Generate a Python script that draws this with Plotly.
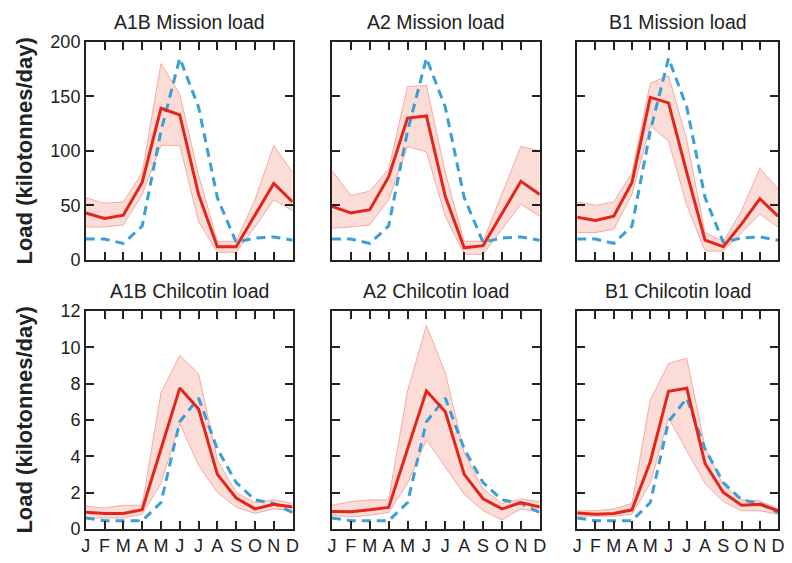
import plotly.graph_objects as go

months = ["J", "F", "M", "A", "M", "J", "J", "A", "S", "O", "N", "D"]
x_idx = list(range(12))

titles = ["A1B Mission load", "A2 Mission load", "B1 Mission load",
          "A1B Chilcotin load", "A2 Chilcotin load", "B1 Chilcotin load"]

# Mission (top row)
obs_mission = [19, 19, 15, 31, 118, 185, 140, 57, 16, 20, 21, 18]
a1b_m_mean = [43, 38, 41, 71, 139, 133, 60, 12, 12, 41, 70, 53]
a1b_m_up = [57, 52, 53, 80, 180, 152, 78, 17, 17, 55, 105, 80]
a1b_m_lo = [30, 30, 32, 60, 105, 105, 35, 7, 7, 30, 55, 45]
a2_m_mean = [49, 43, 46, 76, 130, 132, 58, 11, 13, 42, 72, 60]
a2_m_up = [82, 59, 63, 83, 159, 160, 80, 17, 17, 60, 104, 100]
a2_m_lo = [29, 30, 32, 55, 104, 99, 40, 5, 5, 28, 51, 40]
b1_m_mean = [39, 36, 40, 71, 149, 144, 80, 18, 12, 33, 56, 40]
b1_m_up = [53, 50, 53, 80, 162, 169, 110, 25, 17, 45, 84, 65]
b1_m_lo = [25, 25, 28, 60, 123, 109, 50, 8, 8, 25, 42, 30]

# Chilcotin (bottom row)
obs_chil = [0.6, 0.45, 0.45, 0.45, 1.45, 5.9, 7.2, 4.4, 2.55, 1.6, 1.4, 0.9]
a1b_c_mean = [0.92, 0.85, 0.85, 1.05, 4.4, 7.75, 6.6, 3.0, 1.7, 1.1, 1.35, 1.2]
a1b_c_up = [1.25, 1.15, 1.3, 1.3, 7.5, 9.55, 8.55, 3.8, 2.0, 1.45, 1.6, 1.4]
a1b_c_lo = [0.6, 0.6, 0.6, 0.8, 2.5, 5.8, 3.5, 2.0, 1.2, 0.85, 1.1, 1.0]
a2_c_mean = [0.96, 0.95, 1.05, 1.18, 4.4, 7.6, 6.45, 3.0, 1.66, 1.1, 1.45, 1.2]
a2_c_up = [1.3, 1.5, 1.6, 1.6, 7.6, 11.2, 8.6, 4.2, 2.2, 1.4, 1.65, 1.5]
a2_c_lo = [0.75, 0.65, 0.75, 0.9, 2.5, 4.9, 3.4, 1.9, 1.0, 0.5, 1.1, 0.9]
b1_c_mean = [0.87, 0.8, 0.85, 1.05, 3.7, 7.58, 7.74, 3.6, 2.0, 1.3, 1.35, 1.0]
b1_c_up = [1.0, 1.0, 1.1, 1.4, 7.1, 9.1, 9.4, 4.5, 2.4, 1.6, 1.55, 1.1]
b1_c_lo = [0.7, 0.7, 0.7, 0.8, 2.5, 6.1, 4.3, 2.5, 1.5, 1.0, 1.0, 0.8]

panels = [
    (obs_mission, a1b_m_mean, a1b_m_up, a1b_m_lo),
    (obs_mission, a2_m_mean, a2_m_up, a2_m_lo),
    (obs_mission, b1_m_mean, b1_m_up, b1_m_lo),
    (obs_chil, a1b_c_mean, a1b_c_up, a1b_c_lo),
    (obs_chil, a2_c_mean, a2_c_up, a2_c_lo),
    (obs_chil, b1_c_mean, b1_c_up, b1_c_lo),
]

W, H = 792, 563
# target pixel positions of the panels
col_px = [(82, 292), (332, 543), (581, 785)]
row_px = [(33, 259), (312, 538)]

FONT = "Liberation Sans, Arial, Helvetica, sans-serif"
RED = "#e3261c"
BLUE = "#3a9fd6"
BAND = "rgba(244,150,130,0.33)"
BAND_EDGE = "rgba(240,150,140,0.75)"


def fx(p):
    return p / W


def fy(p):
    return 1 - p / H


fig = go.Figure()
layout = {}
annotations = []

for i, (obs, mean, up, lo) in enumerate(panels):
    r, c = divmod(i, 3)
    n = i + 1
    xa = "x" if n == 1 else f"x{n}"
    ya = "y" if n == 1 else f"y{n}"
    fig.add_trace(go.Scatter(x=x_idx, y=lo, mode="lines", line=dict(color=BAND_EDGE, width=1),
                             xaxis=xa, yaxis=ya, showlegend=False, hoverinfo="skip"))
    fig.add_trace(go.Scatter(x=x_idx, y=up, mode="lines", line=dict(color=BAND_EDGE, width=1),
                             fill="tonexty", fillcolor=BAND,
                             xaxis=xa, yaxis=ya, showlegend=False, hoverinfo="skip"))
    fig.add_trace(go.Scatter(x=x_idx, y=obs, mode="lines", line=dict(color=BLUE, width=3, dash="9px,6px"),
                             xaxis=xa, yaxis=ya, showlegend=False))
    fig.add_trace(go.Scatter(x=x_idx, y=mean, mode="lines", line=dict(color=RED, width=3),
                             xaxis=xa, yaxis=ya, showlegend=False))

    x0, x1 = col_px[c]
    y0, y1 = row_px[r]
    axkey_x = "xaxis" if n == 1 else f"xaxis{n}"
    axkey_y = "yaxis" if n == 1 else f"yaxis{n}"
    layout[axkey_x] = dict(
        domain=[fx(x0), fx(x1)], anchor=ya, range=[0, 11],
        tickmode="array", tickvals=x_idx, ticktext=months,
        showticklabels=(r == 1), ticks="inside", ticklen=8, tickwidth=1.5,
        tickcolor="#222", showline=True, linecolor="#222", linewidth=1.5,
        mirror="ticks", showgrid=False, zeroline=False,
        tickfont=dict(family=FONT, size=18, color="#222"),
    )
    if r == 0:
        yr, ytv = [0, 200], [0, 50, 100, 150, 200]
    else:
        yr, ytv = [0, 12], [0, 2, 4, 6, 8, 10, 12]
    layout[axkey_y] = dict(
        domain=[fy(y1), fy(y0)], anchor=xa, range=yr,
        tickmode="array", tickvals=ytv,
        showticklabels=(c == 0), ticks="inside", ticklen=8, tickwidth=1.5,
        tickcolor="#222", showline=True, linecolor="#222", linewidth=1.5,
        mirror="ticks", showgrid=False, zeroline=False,
        tickfont=dict(family=FONT, size=18, color="#222"),
    )
    annotations.append(dict(
        text=titles[i], x=fx((x0 + x1) / 2), y=fy(y0 - 7),
        xref="paper", yref="paper", xanchor="center", yanchor="bottom",
        showarrow=False, font=dict(family=FONT, size=19.5, color="#222"),
    ))

for (y0, y1) in row_px:
    annotations.append(dict(
        text="<b>Load (kilotonnes/day)</b>", x=fx(20), y=fy((y0 + y1) / 2),
        xref="paper", yref="paper", xanchor="center", yanchor="middle",
        textangle=-90, showarrow=False,
        font=dict(family=FONT, size=22, color="#222"),
    ))

fig.update_layout(
    width=W, height=H, margin=dict(l=0, r=0, t=0, b=0),
    paper_bgcolor="white", plot_bgcolor="white",
    annotations=annotations, showlegend=False, **layout,
)

fig.write_html("out.html", config={"displayModeBar": False},
               post_script="document.body.style.margin='0';document.body.style.overflow='hidden';")
